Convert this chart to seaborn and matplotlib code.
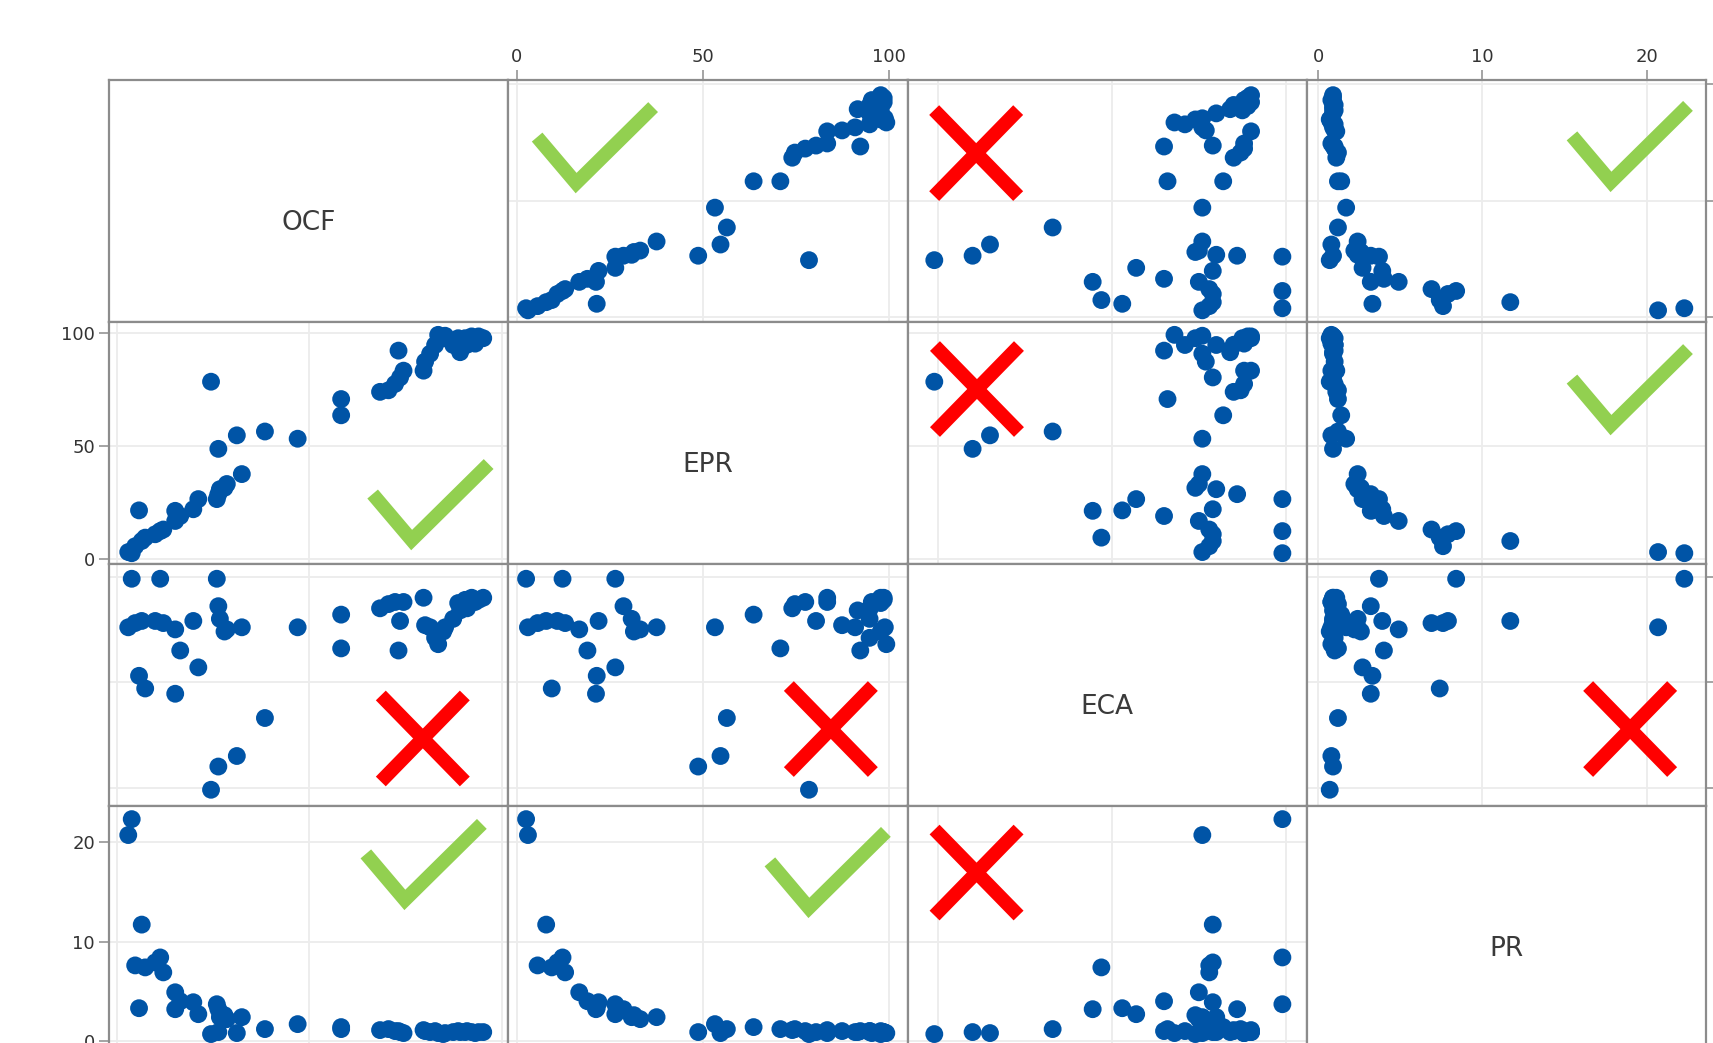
import matplotlib
matplotlib.use("Agg")
import matplotlib.pyplot as plt
import pandas as pd
import seaborn as sns
from matplotlib.lines import Line2D
from matplotlib.transforms import ScaledTranslation

plt.rcParams["font.family"] = ["DejaVu Sans"]

# ---- data -------------------------------------------------------------
variables = ["OCF", "EPR", "ECA", "PR"]

ocf = [3.9, 3.0, 5.8, 6.5, 7.4, 10.0, 11.3, 12.1, 15.2, 15.2, 16.5, 19.9,
       21.2, 24.5, 26.0, 26.4, 26.4, 26.8, 28.6, 31.2, 32.5, 38.5, 47.0, 58.3,
       58.3, 68.4, 70.6, 72.3, 73.6, 73.2, 74.5, 79.7, 80.1, 81.4, 82.7, 83.5,
       84.8, 87.4, 89.2, 88.7, 90.5, 92.2, 94.0, 95.2, 4.8, 85.3, 91.0, 93.1,
       28.0]
epr = [2.5, 3.0, 21.5, 7.9, 9.4, 10.9, 12.3, 13.0, 16.8, 21.3, 19.0, 22.0,
       26.5, 78.6, 26.5, 48.8, 28.7, 30.9, 33.2, 54.8, 37.6, 56.5, 53.3, 63.7,
       70.9, 74.1, 74.8, 77.6, 80.5, 92.4, 83.5, 83.5, 87.5, 91.0, 94.9, 99.4,
       97.9, 94.9, 91.7, 97.9, 97.9, 98.7, 98.7, 97.9, 5.6, 99.0, 95.0, 95.5,
       31.5]
eca = [-0.01, -0.24, -0.47, -0.21, -0.53, -0.21, -0.01, -0.22, -0.25, -0.555,
       -0.35, -0.21, -0.43, -1.01, -0.01, -0.90, -0.14, -0.20, -0.25, -0.85,
       -0.24, -0.67, -0.24, -0.18, -0.34, -0.15, -0.13, -0.12, -0.21, -0.35,
       -0.12, -0.10, -0.23, -0.24, -0.29, -0.32, -0.26, -0.20, -0.16, -0.125,
       -0.11, -0.10, -0.11, -0.10, -0.22, -0.24, -0.15, -0.12, -0.26]
pr = [22.3, 20.7, 3.3, 11.7, 7.4, 7.9, 8.4, 6.9, 4.9, 3.2, 4.0, 3.9,
      2.7, 0.7, 3.7, 0.9, 3.2, 2.4, 2.2, 0.8, 2.4, 1.2, 1.7, 1.4,
      1.2, 1.1, 1.2, 1.0, 0.9, 1.0, 0.8, 1.1, 1.0, 0.9, 1.0, 0.8,
      0.7, 0.9, 0.9, 1.0, 0.9, 0.9, 0.9, 0.9, 7.6, 0.8, 1.0, 0.8,
      2.6]

axis_ticks = {
    "OCF": [0, 50, 100],
    "EPR": [0, 50, 100],
    "ECA": [-1.0, -0.5, 0.0],
    "PR": [0, 10, 20],
}
axis_tick_labels = {
    "OCF": ["0", "50", "100"],
    "EPR": ["0", "50", "100"],
    "ECA": ["-1", "-0.5", "0"],
    "PR": ["0", "10", "20"],
}

# verdict drawn in each scatter cell: (row, col, kind)
verdicts = [
    (0, 1, "ok"), (0, 2, "no"), (0, 3, "ok"),
    (1, 0, "ok"), (1, 2, "no"), (1, 3, "ok"),
    (2, 0, "no"), (2, 1, "no"), (2, 3, "no"),
    (3, 0, "ok"), (3, 1, "ok"), (3, 2, "no"),
]

df = pd.DataFrame({"OCF": ocf, "EPR": epr, "ECA": eca, "PR": pr})

# ---- layout / style -----------------------------------------------------
W_PX, H_PX = 1713, 1043
X0, Y0, CW, CH = 109, 80, 399.25, 242

limits = {
    "OCF": (-2.0, 101.7),
    "EPR": (-2.3, 105.1),
    "ECA": (-1.087, 0.06),
    "PR": (-0.7, 23.62),
}

verdict_anchor = {
    (0, 1): (0.170, 0.574), (0, 3): (0.762, 0.579),
    (1, 0): (0.758, 0.099), (1, 3): (0.762, 0.574),
    (3, 0): (0.741, 0.612), (3, 1): (0.753, 0.579),
    (0, 2): (0.172, 0.698), (1, 2): (0.174, 0.723),
    (2, 0): (0.786, 0.279), (2, 1): (0.808, 0.318),
    (2, 3): (0.810, 0.318), (3, 2): (0.173, 0.725),
}

DOT = "#0054a6"
FRAME = "#8c8c8c"
GRID = "#ececec"
TEXT = "#333333"
GREEN = "#92d050"
RED = "#ff0000"

fig = plt.figure(figsize=(W_PX / 100, H_PX / 100), dpi=100)


def draw_verdict(ax, fx, fy, kind):
    # shape offsets in inches (1 px = 0.01 in at 100 dpi)
    trans = fig.dpi_scale_trans + ScaledTranslation(fx, fy, ax.transAxes)
    if kind == "ok":
        paths = [([-0.39, 0.0, 0.77], [0.46, 0.0, 0.76])]
        color = GREEN
    else:
        paths = [([-0.42, 0.42], [-0.43, 0.43]), ([-0.42, 0.42], [0.43, -0.43])]
        color = RED
    for xs, ys in paths:
        ln = Line2D(xs, ys, transform=trans, color=color, linewidth=10.0,
                    solid_capstyle="butt", solid_joinstyle="miter",
                    clip_on=False, zorder=10)
        ax.add_line(ln)


axes = {}
for i, yv in enumerate(variables):
    for j, xv in enumerate(variables):
        left = (X0 + j * CW) / W_PX
        bottom = 1 - (Y0 + (i + 1) * CH) / H_PX
        ax = fig.add_axes([left, bottom, CW / W_PX, CH / H_PX])
        axes[(i, j)] = ax
        for sp in ax.spines.values():
            sp.set_color(FRAME)
            sp.set_linewidth(1.6)
        ax.tick_params(axis="both", which="both", bottom=False, top=False,
                       left=False, right=False, labelbottom=False,
                       labeltop=False, labelleft=False, labelright=False,
                       length=7, width=1.1, color=FRAME, pad=3,
                       labelsize=13, labelcolor=TEXT)
        ax.set_xlim(*limits[xv])
        ax.set_ylim(*limits[yv])

        if i == j:
            ax.set_xticks([])
            ax.set_yticks([])
            ax.text(0.5, 0.41, xv, transform=ax.transAxes, ha="center",
                    va="center", fontsize=19, color="#3a3a3a")
            continue

        sns.scatterplot(data=df, x=xv, y=yv, ax=ax, color=DOT, s=165,
                        linewidth=0, edgecolor="none", legend=False, zorder=3)
        ax.set_xlim(*limits[xv])
        ax.set_ylim(*limits[yv])
        ax.set_xlabel("")
        ax.set_ylabel("")
        ax.set_xticks(axis_ticks[xv])
        ax.set_xticklabels(axis_tick_labels[xv])
        ax.set_yticks(axis_ticks[yv])
        ax.set_yticklabels(axis_tick_labels[yv])
        ax.grid(True, color=GRID, linewidth=1.3)
        ax.set_axisbelow(True)

# outer tick rows/columns alternate sides; the bottom and right scales
# fall outside the canvas, so only their tick marks are drawn
for j in (1, 3):
    axes[(0, j)].tick_params(axis="x", top=True, labeltop=True)
for j in (0, 2):
    axes[(3, j)].tick_params(axis="x", bottom=True)
for i in (1, 3):
    axes[(i, 0)].tick_params(axis="y", left=True, labelleft=True)
for i in (0, 2):
    axes[(i, 3)].tick_params(axis="y", right=True)

for (i, j, kind) in verdicts:
    fx, fy = verdict_anchor[(i, j)]
    draw_verdict(axes[(i, j)], fx, fy, kind)

fig.savefig("out.png", dpi=100, facecolor="white")
